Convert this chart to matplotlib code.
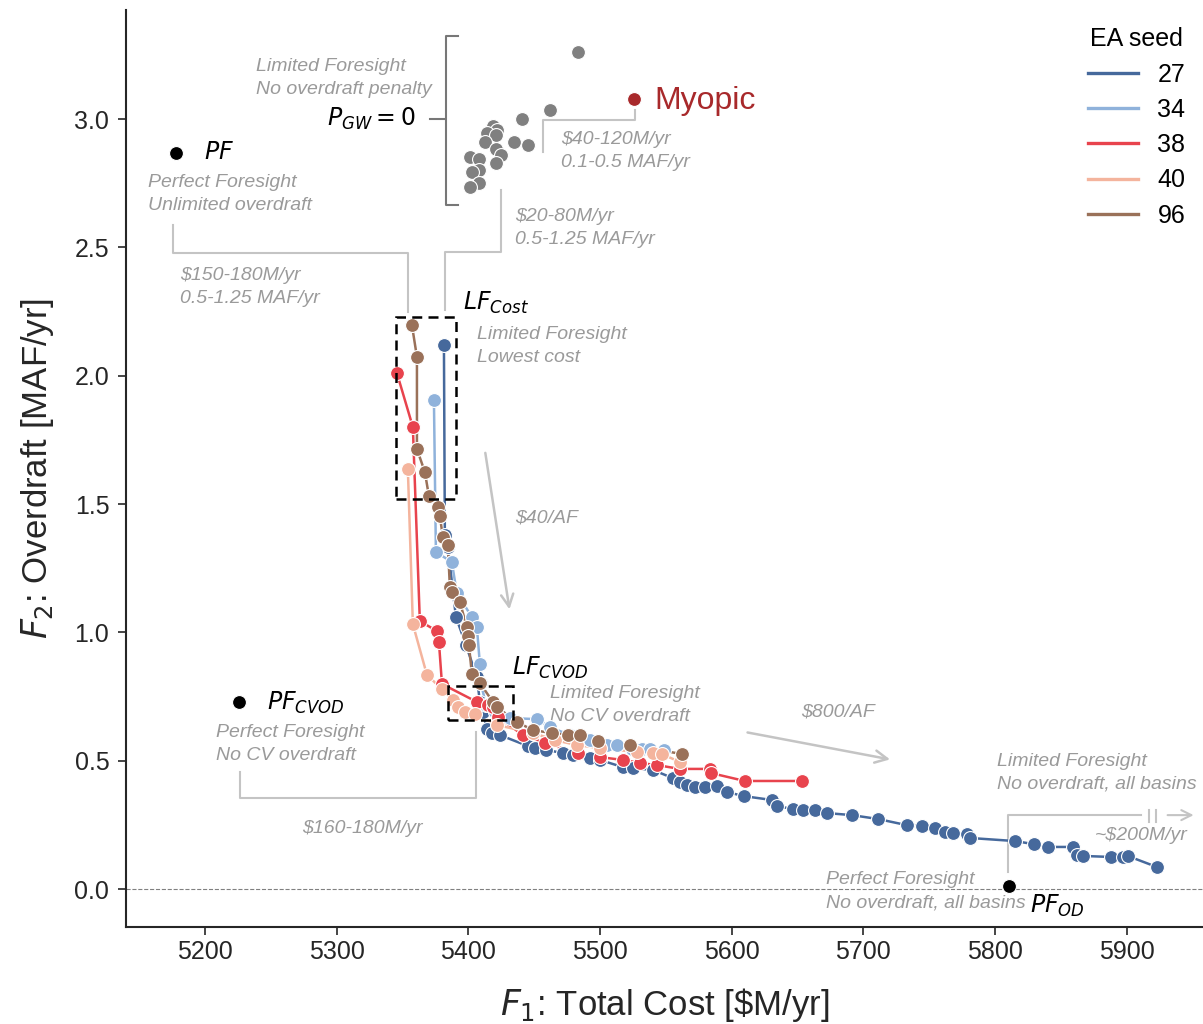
# Pareto fronts, cost vs overdraft, by EA seed
import numpy as np
import matplotlib.pyplot as plt
from matplotlib.lines import Line2D

plt.rcParams['font.family'] = ['Liberation Sans', 'DejaVu Sans']
plt.rcParams['mathtext.fontset'] = 'dejavusans'

seeds = ['27', '34', '38', '40', '96']
colors = {'27': '#46699c', '34': '#8fb2db', '38': '#e8434d', '40': '#f4b49d', '96': '#9a7159'}

# F1 total cost [$M/yr] and F2 overdraft [MAF/yr] for each seed
cost = {
    '27': [5381.5, 5382.2, 5384.5, 5390.6, 5398.2, 5406.5, 5408.8, 5411.1, 5414.1, 5417.9, 5424.0,
           5445.3, 5450.6, 5458.9, 5471.8, 5479.4, 5492.3, 5499.9, 5517.4, 5525.0, 5540.2, 5555.4,
           5560.7, 5566.0, 5572.1, 5579.7, 5588.8, 5596.4, 5609.3, 5630.5, 5634.3, 5646.5, 5654.1,
           5663.2, 5672.3, 5691.3, 5711.0, 5733.0, 5744.4, 5754.3, 5761.9, 5767.9, 5778.6, 5780.9,
           5815.0, 5829.5, 5840.1, 5859.1, 5862.1, 5866.7, 5887.9, 5897.0, 5900.8, 5922.9],
    '34': [5373.9, 5375.4, 5387.5, 5391.3, 5402.7, 5406.5, 5408.8, 5409.6, 5413.4, 5420.2, 5431.6,
           5452.1, 5462.0, 5477.1, 5492.3, 5505.2, 5512.8, 5524.2, 5531.8, 5537.9, 5548.5],
    '38': [5345.8, 5357.9, 5363.2, 5376.2, 5377.7, 5380.0, 5406.5, 5414.9, 5418.7, 5422.5, 5441.5,
           5458.2, 5483.2, 5499.9, 5517.4, 5530.3, 5543.2, 5560.7, 5583.5, 5584.2, 5610.0, 5653.3],
    '40': [5354.1, 5357.9, 5368.6, 5380.0, 5388.3, 5392.1, 5397.4, 5405.0, 5421.7, 5449.1, 5465.8,
           5482.5, 5499.9, 5528.0, 5540.2, 5547.0, 5560.7],
    '96': [5357.2, 5361.0, 5361.0, 5367.0, 5370.1, 5376.9, 5378.4, 5380.7, 5384.5, 5386.0, 5387.5,
           5393.6, 5398.9, 5399.7, 5400.5, 5402.7, 5408.8, 5418.7, 5421.7, 5436.9, 5449.1, 5463.5,
           5475.6, 5484.7, 5498.4, 5522.7, 5562.2],
}
overdraft = {
    '27': [2.119, 1.379, 1.332, 1.060, 0.951, 0.826, 0.729, 0.690, 0.623, 0.608, 0.600,
           0.557, 0.549, 0.542, 0.530, 0.522, 0.510, 0.503, 0.475, 0.471, 0.464, 0.432,
           0.417, 0.405, 0.397, 0.397, 0.401, 0.378, 0.362, 0.347, 0.323, 0.312, 0.308,
           0.308, 0.296, 0.288, 0.273, 0.249, 0.245, 0.238, 0.222, 0.218, 0.214, 0.199,
           0.187, 0.175, 0.164, 0.164, 0.132, 0.129, 0.125, 0.125, 0.129, 0.086],
    '34': [1.905, 1.313, 1.274, 1.153, 1.060, 1.021, 0.877, 0.803, 0.717, 0.690, 0.666,
           0.662, 0.631, 0.600, 0.580, 0.561, 0.561, 0.545, 0.545, 0.545, 0.542],
    '38': [2.010, 1.800, 1.044, 1.005, 0.962, 0.799, 0.729, 0.717, 0.709, 0.670, 0.600,
           0.569, 0.530, 0.514, 0.503, 0.491, 0.483, 0.468, 0.468, 0.452, 0.421, 0.421],
    '40': [1.636, 1.032, 0.834, 0.779, 0.736, 0.709, 0.690, 0.682, 0.639, 0.608, 0.580,
           0.561, 0.549, 0.534, 0.530, 0.526, 0.495],
    '96': [2.197, 2.073, 1.714, 1.625, 1.531, 1.488, 1.453, 1.371, 1.340, 1.177, 1.157,
           1.118, 1.021, 0.986, 0.951, 0.838, 0.803, 0.729, 0.709, 0.651, 0.619, 0.608,
           0.600, 0.600, 0.577, 0.561, 0.526],
}

# no overdraft penalty runs (P_GW = 0)
nopen_cost = [5483, 5462, 5441, 5435, 5445, 5419, 5422, 5414, 5421, 5413, 5421, 5425, 5421,
              5401, 5408, 5408, 5403, 5408, 5401]
nopen_od = [3.262, 3.037, 3.001, 2.911, 2.897, 2.972, 2.957, 2.946, 2.937, 2.911, 2.885, 2.859,
            2.827, 2.852, 2.846, 2.800, 2.794, 2.749, 2.736]

myopic = (5525.7, 3.078)
pf = (5178, 2.867)
pf_cvod = (5226, 0.728)
pf_od = (5810.7, 0.012)

fig = plt.figure(figsize=(12.03, 10.24), dpi=100)
ax = fig.add_axes([0.1047, 0.0947, 0.8953, 0.8956])

for s in seeds:
    ax.plot(cost[s], overdraft[s], '-', color=colors[s], lw=1.8, zorder=3)
    ax.plot(cost[s], overdraft[s], 'o', color=colors[s], ms=10, mec='white', mew=0.8, zorder=4)

ax.plot(nopen_cost, nopen_od, 'o', color='#808080', ms=10, mec='white', mew=0.8, zorder=4)
ax.plot(*myopic, 'o', color='#a8292b', ms=10, mec='white', mew=0.8, zorder=4)
ax.text(5541.7, 3.07, 'Myopic', color='#a8292b', fontsize=23, va='center')

for p in [pf, pf_cvod, pf_od]:
    ax.plot(*p, 'o', color='black', ms=10, mec='white', mew=0.8, zorder=5)

ax.axhline(0, color='gray', lw=0.8, ls='--', zorder=1)

gtxt = dict(color='#9a9a9a', fontsize=14, style='italic', linespacing=1.45)
lgray = '#c4c4c4'

# P_GW = 0 bracket
ax.text(5360, 2.999, '$P_{GW} = 0$', fontsize=17, ha='right', va='center')
ax.plot([5371, 5382], [2.999, 2.999], color='#777777', lw=1.5)
ax.plot([5392, 5383, 5383, 5392], [3.323, 3.323, 2.665, 2.665], color='#777777', lw=1.5)
ax.text(5238.7, 3.16, 'Limited Foresight\nNo overdraft penalty', va='center', **gtxt)

# myopic vs cluster
ax.plot([5526.5, 5526.5, 5456.9, 5456.9], [3.035, 2.996, 2.996, 2.871], color=lgray, lw=1.5)
ax.text(5470.3, 2.875, '\\$40-120M/yr\n0.1-0.5 MAF/yr', va='center', **gtxt)

# cluster vs LF_cost
ax.plot([5424.5, 5424.5, 5382.2, 5382.2], [2.723, 2.482, 2.482, 2.256], color=lgray, lw=1.5)
ax.text(5435.4, 2.575, '\\$20-80M/yr\n0.5-1.25 MAF/yr', va='center', **gtxt)

# PF
ax.text(5199, 2.867, '$PF$', fontsize=17, va='center')
ax.text(5156.7, 2.708, 'Perfect Foresight\nUnlimited overdraft', va='center', **gtxt)
ax.plot([5175.5, 5175.5, 5354.4, 5354.4], [2.587, 2.478, 2.478, 2.249], color=lgray, lw=1.5)
ax.text(5181, 2.345, '\\$150-180M/yr\n0.5-1.25 MAF/yr', va='center', **gtxt)

# LF_cost
ax.text(5395.9, 2.283, '$LF_{Cost}$', fontsize=17, va='center')
ax.text(5406.5, 2.116, 'Limited Foresight\nLowest cost', va='center', **gtxt)
ax.add_patch(plt.Rectangle((5345, 1.518), 45.6, 0.709, fill=False, ec='black', lw=1.8,
                           ls=(0, (4, 2.5)), zorder=6))

# $40/AF arrow
ax.annotate('', xy=(5431.6, 1.079), xytext=(5412.6, 1.710),
            arrowprops=dict(arrowstyle='->', color=lgray, lw=1.8, mutation_scale=22))
ax.text(5435.4, 1.445, '\\$40/AF', va='center', **gtxt)

# LF_CVOD
ax.text(5433.1, 0.861, '$LF_{CVOD}$', fontsize=17, va='center')
ax.text(5462, 0.717, 'Limited Foresight\nNo CV overdraft', va='center', **gtxt)
ax.add_patch(plt.Rectangle((5384.7, 0.658), 49.4, 0.133, fill=False, ec='black', lw=1.8,
                           ls=(0, (4, 2.5)), zorder=6))

# PF_CVOD
ax.text(5247.1, 0.725, '$PF_{CVOD}$', fontsize=17, va='center')
ax.text(5208.4, 0.565, 'Perfect Foresight\nNo CV overdraft', va='center', **gtxt)
ax.plot([5226.6, 5226.6, 5405.5, 5405.5], [0.457, 0.353, 0.353, 0.613], color=lgray, lw=1.5)
ax.text(5319.2, 0.234, '\\$160-180M/yr', ha='center', va='center', **gtxt)

# $800/AF arrow
ax.annotate('', xy=(5722.4, 0.503), xytext=(5610, 0.612),
            arrowprops=dict(arrowstyle='->', color=lgray, lw=1.8, mutation_scale=22))
ax.text(5680.6, 0.690, '\\$800/AF', ha='center', va='center', **gtxt)

# no overdraft, all basins
ax.text(5801.4, 0.452, 'Limited Foresight\nNo overdraft, all basins', va='center', **gtxt)
ax.plot([5809.9, 5809.9, 5911.2], [0.067, 0.288, 0.288], color=lgray, lw=1.5)
ax.plot([5916.8, 5916.8], [0.262, 0.308], color=lgray, lw=1.5)
ax.plot([5922.6, 5922.6], [0.262, 0.308], color=lgray, lw=1.5)
ax.annotate('', xy=(5953, 0.288), xytext=(5929, 0.288),
            arrowprops=dict(arrowstyle='->', color=lgray, lw=1.5, mutation_scale=18))
ax.text(5946.4, 0.210, '~\\$200M/yr', ha='right', va='center', **gtxt)
ax.text(5671.5, -0.008, 'Perfect Foresight\nNo overdraft, all basins', va='center', **gtxt)
ax.text(5826.4, -0.066, '$PF_{OD}$', fontsize=17, va='center')

ax.set_xlim(5140, 5958)
ax.set_ylim(-0.148, 3.425)
ax.set_xticks(np.arange(5200, 5901, 100))
ax.set_yticks(np.arange(0, 3.01, 0.5))
ax.set_yticklabels([f'{v:.1f}' for v in np.arange(0, 3.01, 0.5)])
ax.tick_params(labelsize=18, length=6, width=1.2, colors='#262626')
ax.tick_params(axis='y', pad=6)
for sp in ['top', 'right']:
    ax.spines[sp].set_visible(False)
for sp in ['left', 'bottom']:
    ax.spines[sp].set_linewidth(1.5)
    ax.spines[sp].set_color('#262626')
ax.set_xlabel('$F_1$: Total Cost [\\$M/yr]', fontsize=25, color='#262626', labelpad=16)
ax.set_ylabel('$F_2$: Overdraft [MAF/yr]', fontsize=25, color='#262626', labelpad=13)

handles = [Line2D([], [], color=colors[s], lw=2.4) for s in seeds]
ax.legend(handles, seeds, title='EA seed', loc='upper right', frameon=False, fontsize=18,
          title_fontsize=18, handlelength=2.0, handletextpad=0.8, labelspacing=0.45,
          bbox_to_anchor=(1.0, 1.0), borderaxespad=0.3)

fig.savefig('out.png', dpi=100)
